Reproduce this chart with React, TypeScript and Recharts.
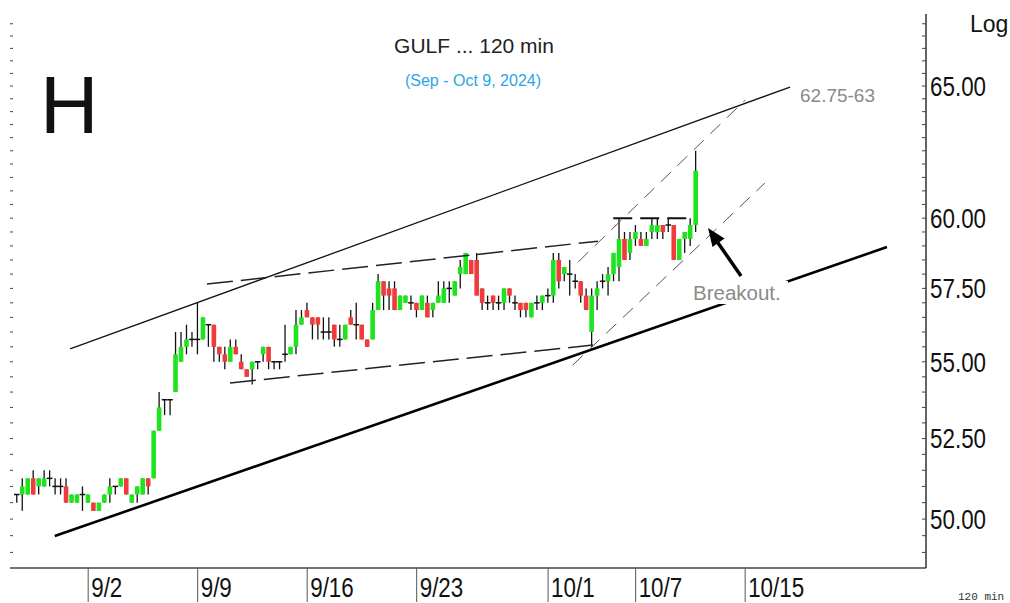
import React from 'react';
import { ComposedChart, Bar, XAxis, YAxis, ReferenceLine } from 'recharts';

// 120-min bars, GULF, late Aug -> Oct 9, 2024 (bar index = position on the time axis)
const opens = [
  50.75, 50.75, 50.75, 51.25, 51.0, 51.0, 51.25, 51.0, 51.0, 51.0,
  50.5, 50.5, 50.75, 50.5, 50.5, 50.25, 50.5, 50.75, 51.0, 51.0,
  51.25, 50.5, 50.75, 50.75, 51.25, 51.25, 52.75, 53.75, 53.75, 54.0,
  55.0, 55.5, 55.75, 55.75, 55.75, 56.25, 56.25, 55.5, 55.25, 55.0,
  55.5, 55.0, 54.75, 54.75, 55.0, 55.25, 55.5, 55.0, 55.0, 55.25,
  55.25, 55.5, 56.25, 56.75, 56.5, 56.5, 56.0, 56.0, 56.25, 55.75,
  55.75, 56.5, 56.25, 56.25, 55.75, 55.75, 56.75, 57.75, 57.5, 57.5,
  56.75, 57.0, 57.0, 57.0, 56.75, 57.0, 56.75, 57.0, 57.0, 57.5,
  57.25, 58.0, 58.0, 58.5, 58.5, 57.5, 57.0, 57.25, 57.0, 57.0,
  57.5, 57.0, 57.0, 57.0, 56.5, 57.0, 57.0, 57.25, 57.25, 58.5,
  58.0, 58.0, 57.75, 57.75, 57.25, 56.0, 57.25, 57.75, 57.75, 58.0,
  58.25, 59.25, 58.75, 59.25, 59.25, 59.0, 59.5, 59.5, 59.75, 59.75,
  59.75, 58.5, 59.25, 59.25, 59.75,
];
const highs = [
  50.75, 51.25, 51.25, 51.5, 51.25, 51.5, 51.5, 51.25, 51.25, 51.25,
  50.75, 50.75, 51.0, 50.75, 50.5, 50.5, 50.75, 51.25, 51.0, 51.25,
  51.25, 50.75, 51.0, 51.25, 51.25, 52.75, 54.0, 53.75, 53.75, 56.0,
  56.0, 56.25, 56.0, 57.0, 56.5, 56.25, 56.25, 55.5, 55.5, 55.75,
  55.75, 55.25, 54.75, 55.0, 55.0, 55.5, 55.5, 55.0, 55.0, 56.25,
  55.5, 56.75, 56.75, 57.0, 56.5, 56.5, 56.5, 56.5, 56.25, 56.25,
  56.25, 56.75, 57.0, 56.25, 55.75, 57.0, 58.0, 57.75, 57.75, 57.75,
  57.25, 57.25, 57.25, 57.0, 57.25, 57.25, 57.0, 57.75, 57.75, 57.75,
  57.75, 58.5, 58.75, 58.5, 58.75, 57.5, 57.25, 57.25, 57.25, 57.5,
  57.5, 57.25, 57.0, 57.0, 57.0, 57.25, 57.25, 57.5, 58.75, 58.75,
  58.25, 58.5, 58.0, 57.75, 57.5, 57.5, 57.75, 58.0, 58.25, 58.75,
  60.0, 59.5, 59.5, 59.75, 59.5, 59.5, 60.0, 60.0, 59.75, 60.0,
  59.75, 59.25, 59.5, 60.0, 62.5,
];
const lows = [
  50.5, 50.25, 50.75, 50.75, 50.75, 51.0, 51.0, 50.75, 50.75, 50.5,
  50.5, 50.5, 50.25, 50.5, 50.25, 50.25, 50.5, 50.5, 50.75, 51.0,
  50.75, 50.5, 50.5, 50.75, 50.75, 51.25, 52.75, 53.25, 53.25, 54.0,
  55.0, 55.25, 55.5, 55.25, 55.75, 55.5, 55.0, 55.0, 54.75, 55.0,
  55.25, 54.75, 54.5, 54.25, 54.75, 55.0, 54.75, 54.75, 54.75, 55.0,
  55.25, 55.25, 56.25, 56.5, 55.75, 55.75, 55.75, 55.75, 55.5, 55.5,
  55.75, 56.25, 55.75, 55.75, 55.5, 55.75, 56.75, 56.75, 56.75, 56.75,
  56.75, 57.0, 56.75, 56.5, 56.75, 56.5, 56.5, 57.0, 57.0, 57.0,
  57.25, 57.5, 58.0, 58.0, 57.25, 56.75, 56.75, 56.75, 56.75, 56.75,
  57.0, 56.75, 56.5, 56.5, 56.5, 56.75, 56.75, 57.0, 57.0, 57.5,
  57.75, 57.25, 57.5, 57.0, 56.75, 55.5, 56.75, 57.5, 57.25, 57.75,
  57.75, 58.5, 58.5, 59.0, 59.0, 59.0, 59.25, 59.25, 59.25, 59.5,
  58.5, 58.5, 58.75, 59.0, 59.5,
];
const closes = [
  50.75, 51.0, 51.25, 50.75, 51.25, 51.25, 51.25, 51.0, 51.0, 50.5,
  50.75, 50.75, 50.75, 50.75, 50.25, 50.5, 50.75, 51.0, 51.0, 51.25,
  50.75, 50.75, 51.0, 51.25, 51.0, 52.75, 53.5, 53.75, 53.75, 55.25,
  55.5, 55.75, 55.75, 55.75, 56.5, 56.25, 55.5, 55.25, 55.0, 55.5,
  55.25, 54.75, 54.5, 55.0, 55.0, 55.5, 55.0, 55.0, 55.0, 55.25,
  55.5, 56.25, 56.5, 56.5, 56.25, 56.25, 56.0, 56.0, 55.75, 55.75,
  56.25, 56.25, 56.25, 55.75, 55.5, 56.75, 57.75, 57.25, 57.25, 56.75,
  57.25, 57.25, 57.0, 56.75, 57.25, 56.5, 57.0, 57.25, 57.5, 57.5,
  57.75, 58.25, 58.75, 58.0, 57.25, 57.0, 57.0, 57.0, 57.0, 57.5,
  57.25, 57.0, 56.75, 56.75, 57.0, 57.0, 57.25, 57.25, 58.5, 57.75,
  58.25, 58.0, 57.75, 57.25, 56.75, 57.25, 57.5, 57.75, 58.0, 58.75,
  59.25, 58.5, 59.25, 59.5, 59.0, 59.25, 59.75, 59.75, 59.5, 59.75,
  58.5, 59.25, 59.5, 59.75, 61.75,
];

// first bar of each labelled trading day
const dateTicks = [13, 33, 53, 73, 97, 113, 133];
const dateLabels = ['9/2', '9/9', '9/16', '9/23', '10/1', '10/7', '10/15'];

const priceLabels = [50, 52.5, 55, 57.5, 60, 65];
const minorTicks: number[] = [];
for (let p = 49; p <= 67.5; p += 0.5) minorTicks.push(p);

// drawn lines, as [bar index, price] end points
const upperLine = [{ x: 9.7, y: 55.43 }, { x: 141.2, y: 64.96 }];
const lowerLine = [{ x: 6.9, y: 49.49 }, { x: 158.9, y: 58.96 }];
const triTop = [{ x: 34.7, y: 57.65 }, { x: 106.1, y: 59.17 }];
const triBottom = [{ x: 38.9, y: 54.3 }, { x: 105.2, y: 55.56 }];
const chanTop = [{ x: 102.5, y: 58.43 }, { x: 133.0, y: 64.45 }];
const chanBottom = [{ x: 101.5, y: 54.89 }, { x: 136.6, y: 61.29 }];
const resistance = [{ x: 108.9, y: 60.0 }, { x: 122.9, y: 60.0 }];

const candles = opens.map((o, i) => ({
  i,
  open: o,
  high: highs[i],
  low: lows[i],
  close: closes[i],
}));

const UP = '#1fe31f';
const DOWN = '#ef3b3b';
const SANS = "'Liberation Sans', Arial, sans-serif";

const Candle = (props: any) => {
  const { x, y, width, height, payload } = props;
  const top = Math.min(y, y + height);
  const bottom = Math.max(y, y + height);
  const cx = x + width / 2;
  const { open, high, low, close } = payload;
  const span = Math.log(high) - Math.log(low);
  const toY = (v: number) =>
    span > 0 ? bottom - ((Math.log(v) - Math.log(low)) / span) * (bottom - top) : top;
  const yo = toY(open);
  const yc = toY(close);
  const bw = 4.6;
  return (
    <g>
      <line x1={cx} x2={cx} y1={top} y2={bottom} stroke="#111" strokeWidth={1.3} />
      {open === close ? (
        <line x1={cx - bw / 2 - 0.5} x2={cx + bw / 2 + 0.5} y1={yo} y2={yo} stroke="#111" strokeWidth={1.5} />
      ) : (
        <rect
          x={cx - bw / 2}
          y={Math.min(yo, yc)}
          width={bw}
          height={Math.abs(yc - yo)}
          fill={close > open ? UP : DOWN}
        />
      )}
    </g>
  );
};

// narrow axis lettering: regular sans squeezed horizontally
const NarrowText = ({ x, y, children, ...rest }: any) => (
  <text
    transform={`translate(${x},${y}) scale(0.8,1)`}
    fontSize={28}
    fontFamily={SANS}
    fill="#111"
    {...rest}
  >
    {children}
  </text>
);

const DateTick = (props: any) => {
  const { x, y, payload } = props;
  const k = dateTicks.indexOf(payload.value);
  return (
    <g>
      <line x1={x} x2={x} y1={y} y2={y + 34} stroke="#555" strokeWidth={1} />
      <NarrowText x={x + 3} y={y + 29}>{dateLabels[k]}</NarrowText>
    </g>
  );
};

const PriceTick = (props: any) => {
  const { x, y, payload } = props;
  const v = payload.value;
  const isMajor = priceLabels.some((p) => Math.abs(p - v) < 0.001);
  return (
    <g>
      <line x1={x - 4} x2={x} y1={y} y2={y} stroke="#444" strokeWidth={1} />
      {isMajor && (
        <NarrowText x={x + 4} y={y} dominantBaseline="central">
          {v.toFixed(2)}
        </NarrowText>
      )}
    </g>
  );
};

const LeftTick = (props: any) => {
  const { x, y } = props;
  return <line x1={x} x2={x + 3} y1={y} y2={y} stroke="#444" strokeWidth={1} />;
};

export default function App() {
  return (
    <div style={{ position: 'absolute', left: 0, top: 0, width: 1010, height: 603, background: '#fff' }}>
      <ComposedChart
        width={1010}
        height={603}
        data={candles}
        margin={{ top: 14, right: 0, bottom: 0, left: 0 }}
      >
        <XAxis
          dataKey="i"
          type="number"
          domain={[-1.28, 166.03]}
          allowDataOverflow
          ticks={dateTicks}
          interval={0}
          tick={DateTick}
          tickSize={0}
          tickMargin={0}
          tickLine={false}
          height={35}
          axisLine={{ stroke: '#444', strokeWidth: 1.5 }}
        />
        <YAxis
          yAxisId="l"
          orientation="left"
          scale="log"
          domain={[48.54, 67.9]}
          allowDataOverflow
          ticks={minorTicks}
          interval={0}
          tick={LeftTick}
          tickSize={0}
          tickMargin={0}
          tickLine={false}
          axisLine={false}
          width={10}
        />
        <YAxis
          yAxisId="r"
          orientation="right"
          scale="log"
          domain={[48.54, 67.9]}
          allowDataOverflow
          ticks={minorTicks}
          interval={0}
          tick={PriceTick}
          tickSize={0}
          tickMargin={0}
          tickLine={false}
          axisLine={{ stroke: '#333', strokeWidth: 1.5 }}
          width={84}
        />
        <ReferenceLine yAxisId="r" segment={upperLine} stroke="#111" strokeWidth={1.3} />
        <ReferenceLine yAxisId="r" segment={lowerLine} stroke="#000" strokeWidth={2.6} />
        <ReferenceLine yAxisId="r" segment={triTop} stroke="#222" strokeWidth={1.5} strokeDasharray="26 8" />
        <ReferenceLine yAxisId="r" segment={triBottom} stroke="#222" strokeWidth={1.5} strokeDasharray="26 8" />
        <ReferenceLine yAxisId="r" segment={chanTop} stroke="#555" strokeWidth={1} strokeDasharray="14 9" />
        <ReferenceLine yAxisId="r" segment={chanBottom} stroke="#555" strokeWidth={1} strokeDasharray="14 9" />
        <ReferenceLine yAxisId="r" segment={resistance} stroke="#111" strokeWidth={2} strokeDasharray="19 8" />
        <Bar
          yAxisId="r"
          dataKey={(d: any) => [d.low, d.high]}
          barSize={5}
          isAnimationActive={false}
          shape={(p: any) => <Candle {...p} />}
        />
      </ComposedChart>
      <svg
        width={1010}
        height={603}
        style={{ position: 'absolute', left: 0, top: 0, pointerEvents: 'none' }}
      >
        <text x={40} y={133} fontSize={81} fontFamily={SANS} fill="#111">H</text>
        <text x={474} y={53} textAnchor="middle" fontSize={21} fontFamily={SANS} fill="#222">
          GULF ... 120 min
        </text>
        <text x={473} y={86} textAnchor="middle" fontSize={16} fontFamily={SANS} fill="#2aa5e6">
          (Sep - Oct 9, 2024)
        </text>
        <text x={970} y={32} fontSize={23} fontFamily={SANS} fill="#111">Log</text>
        <text x={800} y={102} fontSize={19} fontFamily={SANS} fill="#8a8a8a">62.75-63</text>
        <rect x={690} y={281} width={98} height={23} fill="#fff" />
        <text x={693} y={300} fontSize={20.5} fontFamily={SANS} fill="#8a8a8a">Breakout.</text>
        <line x1={741} y1={276} x2={716} y2={240} stroke="#000" strokeWidth={3.5} />
        <polygon points="708,228 724.5,238.5 712.5,247" fill="#000" />
        <text x={958} y={600} fontSize={11} fontFamily="'Liberation Mono', monospace" fill="#333">
          120 min
        </text>
      </svg>
    </div>
  );
}
